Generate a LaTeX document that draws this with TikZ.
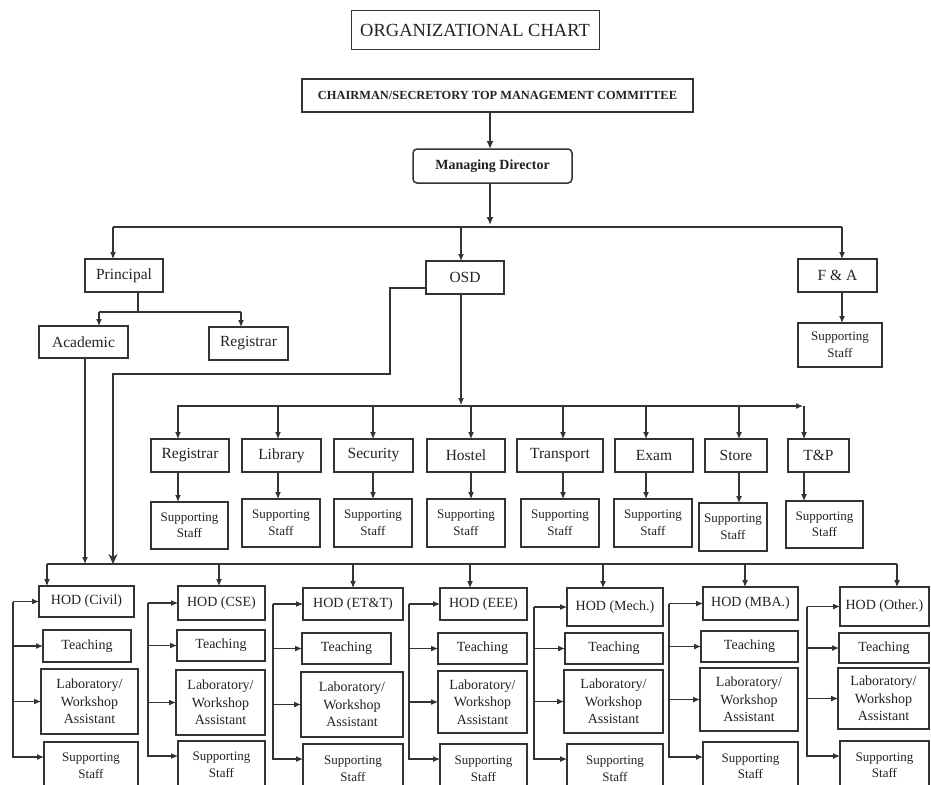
\documentclass[tikz,border=0pt]{standalone}
\usepackage{fontspec}
\setmainfont{Liberation Serif}
\usetikzlibrary{arrows.meta}
\definecolor{lc}{HTML}{333333}
\definecolor{tc}{HTML}{222222}
\newcommand\fsz[2]{\fontsize{#1}{#2}\selectfont}
\newcommand\obox[7][]{\node[orgbox,minimum width={(#5-#3)*1pt},minimum height={(#6-#4)*1pt},#1] (#2) at ({(#3+#5)/2},{(#4+#6)/2}) {#7};}
\begin{document}
\begin{tikzpicture}[x=1pt,y=-1pt,
  orgbox/.style={draw=lc,line width=1.4pt,inner sep=0pt,outer sep=0pt,align=center,text=tc,font=\fsz{15.5}{18}},
  hodf/.style={font=\fsz{14}{17.5}},
  ssf/.style={font=\fsz{13}{16.5}},
  ln/.style={draw=lc,line width=1.1pt},
  arr/.style={ln,-{Latex[length=7pt,width=6pt]}},
  thk/.style={draw=lc,line width=2pt,-{Latex[length=8pt,width=7pt]}},
  thkbig/.style={draw=lc,line width=2.2pt,-{Stealth[length=10pt,width=9pt]}}]
\useasboundingbox (0,0) rectangle (931,784);
% top
\obox[line width=1pt,font=\fsz{18.5}{20}]{title}{351}{11}{599}{50}{ORGANIZATIONAL CHART}
\obox[line width=2.6pt,font=\bfseries\fsz{12.4}{14}]{chair}{302}{79}{693}{112}{CHAIRMAN/SECRETORY TOP MANAGEMENT COMMITTEE}
\obox[rounded corners=4pt,line width=1.5pt,font=\bfseries\fsz{14}{16}]{md}{413}{149}{572}{183}{Managing Director}
\draw[thk] (chair.south -| 490,0) -- (md.north -| 490,0);
% level 2
\obox{prin}{85}{259}{163}{292}{Principal}
\obox{osd}{426}{261}{504}{294}{OSD}
\obox{fa}{798}{259}{877}{292}{F \& A}
\obox[ssf]{fass}{798}{323}{882}{367}{Supporting\\Staff}
\coordinate (mdj) at (490,225);
\coordinate (t1) at (113,227);
\coordinate (t2) at (842,227);
\draw[thk] (md.south -| mdj) -- (mdj);
\draw[ln] (t1) -- (t2);
\draw[arr] (t1) -- (prin.north -| t1);
\draw[arr] (461,227) -- (osd.north -| 461,0);
\draw[arr] (t2) -- (fa.north -| t2);
\draw[arr] (fa.south -| t2) -- (fass.north -| t2);
% principal
\obox{acad}{39}{326}{128}{358}{Academic}
\obox{reg}{209}{327}{288}{360}{Registrar}
\coordinate (p0) at (138,312);
\coordinate (pa) at (99,312);
\coordinate (pr) at (241,312);
\draw[ln] (prin.south -| p0) -- (p0);
\draw[ln] (pa) -- (pr);
\draw[arr] (pa) -- (acad.north -| pa);
\draw[arr] (pr) -- (reg.north -| pr);
% services
\obox{s1}{151}{439}{229}{472}{Registrar}
\obox{s2}{242}{439}{321}{472}{Library}
\obox{s3}{334}{439}{413}{472}{Security}
\obox{s4}{427}{439}{505}{472}{Hostel}
\obox{s5}{517}{439}{603}{472}{Transport}
\obox{s6}{615}{439}{693}{472}{Exam}
\obox{s7}{705}{439}{767}{472}{Store}
\obox{s8}{788}{439}{849}{472}{T\&P}
\obox[ssf]{ss1}{151}{502}{228}{549}{Supporting\\Staff}
\obox[ssf]{ss2}{242}{499}{320}{547}{Supporting\\Staff}
\obox[ssf]{ss3}{334}{499}{412}{547}{Supporting\\Staff}
\obox[ssf]{ss4}{427}{499}{505}{547}{Supporting\\Staff}
\obox[ssf]{ss5}{521}{499}{599}{547}{Supporting\\Staff}
\obox[ssf]{ss6}{614}{499}{692}{547}{Supporting\\Staff}
\obox[ssf]{ss7}{699}{503}{767}{551}{Supporting\\Staff}
\obox[ssf]{ss8}{786}{501}{863}{548}{Supporting\\Staff}
\coordinate (sb1) at (177,406);
\coordinate (sb2) at (803,406);
\draw[arr] (osd.south -| 461,0) -- (461,405);
\draw[arr] (sb1) -- (sb2);
\foreach \i/\ax in {1/178,2/278,3/373,4/471,5/563,6/646,7/739,8/804}{
  \draw[arr] (\ax,406) -- (s\i.north -| \ax,0);
  \draw[arr] (s\i.south -| \ax,0) -- (ss\i.north -| \ax,0);
}
% HOD columns
\obox[hodf]{hod1}{39}{586}{134}{617}{HOD (Civil)}
\obox[hodf]{tea1}{43}{630}{131}{662}{Teaching}
\obox[hodf]{lab1}{41}{669}{138}{734}{Laboratory/\\Workshop\\Assistant}
\obox[ssf]{ssh1}{44}{742}{138}{789}{Supporting\\Staff}
\obox[hodf]{hod2}{178}{586}{265}{620}{HOD (CSE)}
\obox[hodf]{tea2}{177}{630}{265}{661}{Teaching}
\obox[hodf]{lab2}{176}{670}{265}{735}{Laboratory/\\Workshop\\Assistant}
\obox[ssf]{ssh2}{178}{741}{265}{788}{Supporting\\Staff}
\obox[hodf]{hod3}{303}{588}{403}{620}{HOD (ET\&T)}
\obox[hodf]{tea3}{302}{633}{391}{664}{Teaching}
\obox[hodf]{lab3}{301}{672}{403}{737}{Laboratory/\\Workshop\\Assistant}
\obox[ssf]{ssh3}{303}{744}{403}{793}{Supporting\\Staff}
\obox[hodf]{hod4}{440}{588}{527}{620}{HOD (EEE)}
\obox[hodf]{tea4}{438}{633}{527}{664}{Teaching}
\obox[hodf]{lab4}{438}{671}{527}{733}{Laboratory/\\Workshop\\Assistant}
\obox[ssf]{ssh4}{440}{744}{527}{793}{Supporting\\Staff}
\obox[hodf]{hod5}{567}{588}{663}{626}{HOD (Mech.)}
\obox[hodf]{tea5}{565}{633}{663}{664}{Teaching}
\obox[hodf]{lab5}{564}{670}{663}{733}{Laboratory/\\Workshop\\Assistant}
\obox[ssf]{ssh5}{567}{744}{663}{793}{Supporting\\Staff}
\obox[hodf]{hod6}{703}{587}{798}{620}{HOD (MBA.)}
\obox[hodf]{tea6}{701}{631}{798}{662}{Teaching}
\obox[hodf]{lab6}{700}{668}{798}{731}{Laboratory/\\Workshop\\Assistant}
\obox[ssf]{ssh6}{703}{742}{798}{790}{Supporting\\Staff}
\obox[hodf]{hod7}{840}{587}{929}{626}{HOD (Other.)}
\obox[hodf]{tea7}{839}{633}{929}{663}{Teaching}
\obox[hodf]{lab7}{838}{668}{929}{729}{Laboratory/\\Workshop\\Assistant}
\obox[ssf]{ssh7}{840}{741}{929}{789}{Supporting\\Staff}
% HOD bus
\coordinate (hb1) at (47,564);
\coordinate (hb2) at (897,564);
\draw[ln] (hb1) -- (hb2);
\draw[arr] (acad.south -| 85,0) -- (85,564);
\draw[thkbig] (osd.west |- 0,288) -- (390,288) -- (390,374) -- (113,374) -- (113,564);
\foreach \c/\hx/\bxx in {1/47/13,2/219/148,3/353/273,4/470/409,5/603/534,6/745/669,7/897/807}{
  \draw[arr] (\hx,564) -- (hod\c.north -| \hx,0);
  \draw[arr] (hod\c.west -| \bxx,0) -- (hod\c.west);
  \draw[arr] (tea\c.west -| \bxx,0) -- (tea\c.west);
  \draw[arr] (lab\c.west -| \bxx,0) -- (lab\c.west);
  \draw[arr] (hod\c.west -| \bxx,0) |- ([yshift=-15pt]ssh\c.north west);
}
\end{tikzpicture}
\end{document}
